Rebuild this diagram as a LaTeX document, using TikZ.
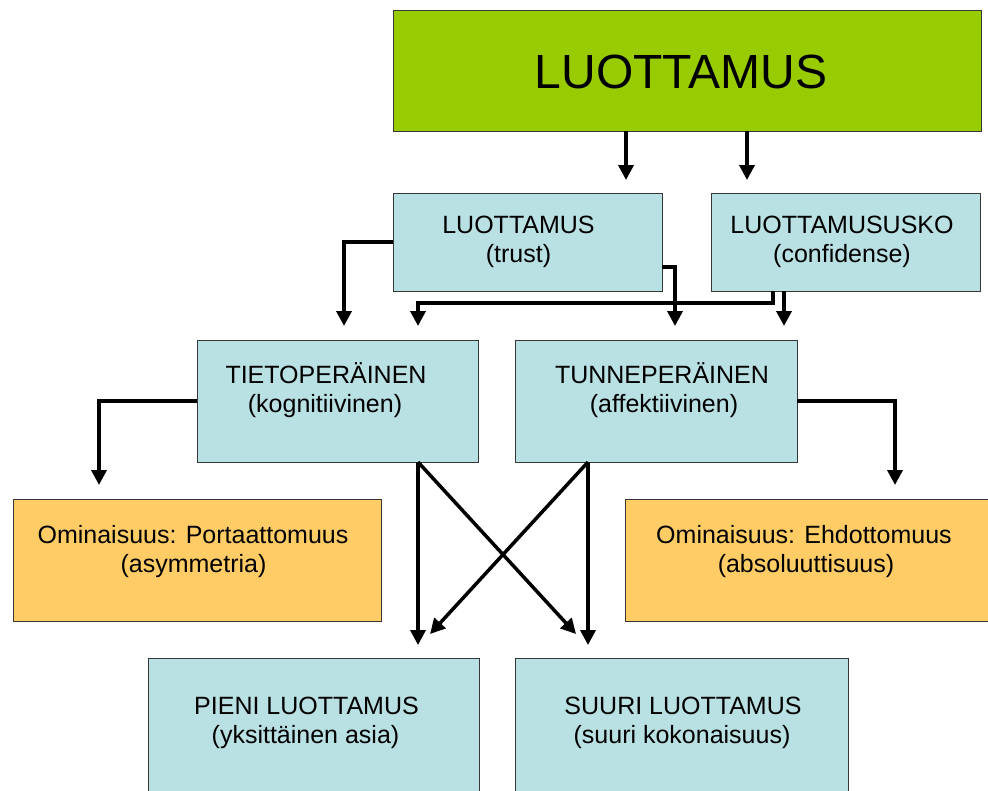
\documentclass[tikz,border=0pt]{standalone}
\usepackage{fontspec}
\setmainfont{Liberation Sans}
\usetikzlibrary{arrows.meta}
\definecolor{boxblue}{RGB}{185,224,227}
\definecolor{boxorange}{RGB}{255,204,102}
\definecolor{boxgreen}{RGB}{153,204,0}
\definecolor{edgegray}{RGB}{55,55,55}
\begin{document}
\begin{tikzpicture}[x=1pt,y=-1pt,
  box/.style={draw=edgegray, line width=1pt, inner sep=0pt, outer sep=0pt},
  bluebox/.style={box, fill=boxblue},
  orangebox/.style={box, fill=boxorange},
  greenbox/.style={box, fill=boxgreen},
  lbl/.style={anchor=base, inner sep=0pt, font=\fontsize{25}{30}\selectfont},
  biglbl/.style={anchor=base, inner sep=0pt, font=\fontsize{48}{56}\selectfont},
  arr/.style={line width=3.5pt, -{Triangle[width=15pt,length=15pt]}, line join=miter},
]
\useasboundingbox (0,0) rectangle (988,790);
\fill[white] (0,0) rectangle (988,790);

% boxes
\node[greenbox, minimum width=588pt, minimum height=121pt] (top) at (687,70.5) {};
\node[bluebox, minimum width=269pt, minimum height=98pt] (trust) at (527.5,242) {};
\node[bluebox, minimum width=269pt, minimum height=98pt] (usko) at (845.5,242) {};
\node[bluebox, minimum width=281pt, minimum height=122pt] (tieto) at (337.5,401) {};
\node[bluebox, minimum width=282pt, minimum height=122pt] (tunne) at (656,401) {};
\node[orangebox, minimum width=368pt, minimum height=122pt] (port) at (197,560) {};
\node[orangebox, minimum width=365pt, minimum height=122pt] (ehd) at (807.5,560) {};
\node[bluebox, minimum width=331pt, minimum height=142pt] (pieni) at (313.5,729) {};
\node[bluebox, minimum width=333pt, minimum height=142pt] (suuri) at (681.5,729) {};

% texts
\node[biglbl] (topA) at (681,88) {LUOTTAMUS};
\node[lbl] (trustA) at (518.5,233) {LUOTTAMUS};
\node[lbl] (trustB) at (518.5,262) {(trust)};
\node[lbl] (uskoA) at (842,233) {LUOTTAMUSUSKO};
\node[lbl] (uskoB) at (842,262) {(confidense)};
\node[lbl] (tietoA) at (326,383) {TIETOPERÄINEN};
\node[lbl] (tietoB) at (325,412) {(kognitiivinen)};
\node[lbl] (tunneA) at (662,383) {TUNNEPERÄINEN};
\node[lbl] (tunneB) at (664,412) {(affektiivinen)};
\node[lbl] (portA) at (193,543) {Ominaisuus: Portaattomuus};
\node[lbl] (portB) at (193.5,572) {(asymmetria)};
\node[lbl] (ehdA) at (804,543) {Ominaisuus: Ehdottomuus};
\node[lbl] (ehdB) at (806,572) {(absoluuttisuus)};
\node[lbl] (pieniA) at (306.5,714) {PIENI LUOTTAMUS};
\node[lbl] (pieniB) at (305.5,743) {(yksittäinen asia)};
\node[lbl] (suuriA) at (683,714) {SUURI LUOTTAMUS};
\node[lbl] (suuriB) at (682,743) {(suuri kokonaisuus)};

% helper columns
\coordinate (x626) at (626,0);
\coordinate (x747) at (747,0);
\coordinate (x344) at (344,0);
\coordinate (x675) at (675,0);
\coordinate (x773) at (773,0);
\coordinate (x784) at (784,0);
\coordinate (x418) at (418,0);
\coordinate (x588) at (588,0);
\coordinate (x99) at (99,0);
\coordinate (x895) at (895,0);
\coordinate (d1) at (576,634);
\coordinate (d2) at (430,634);

% connectors
\draw[arr, shorten >=13pt] (top.south -| x626) -- (trust.north -| x626);
\draw[arr, shorten >=13pt] (top.south -| x747) -- (usko.north -| x747);
\draw[arr, shorten >=14pt] (trust.west) -| (tieto.north -| x344);
\draw[arr, shorten >=14pt] ([yshift=-25pt]trust.east) -| (tunne.north -| x675);
\draw[arr, shorten >=14pt] (usko.south -| x773) -- ++(0,12) -| (tieto.north -| x418);
\draw[arr, shorten >=14pt] (usko.south -| x784) -- (tunne.north -| x784);
\draw[arr, shorten >=14pt] (tieto.west) -| (port.north -| x99);
\draw[arr, shorten >=14pt] (tunne.east) -| (ehd.north -| x895);
\draw[arr, shorten >=13pt] (tieto.south -| x418) -- (pieni.north -| x418);
\draw[arr] (tieto.south -| x418) -- (d1);
\draw[arr, shorten >=13pt] (tunne.south -| x588) -- (suuri.north -| x588);
\draw[arr] (tunne.south -| x588) -- (d2);
\end{tikzpicture}
\end{document}
